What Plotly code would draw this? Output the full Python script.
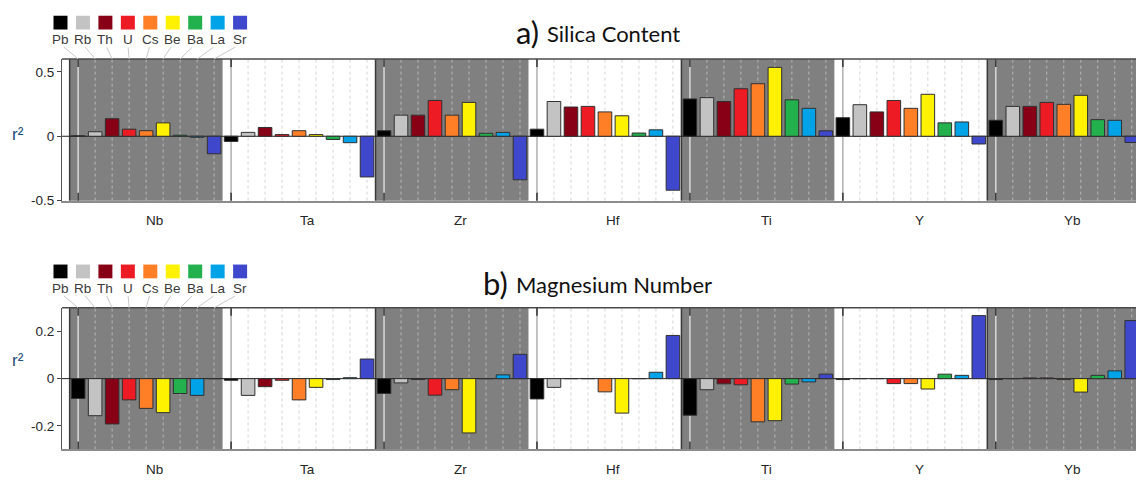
import plotly.graph_objects as go

# --- data -------------------------------------------------------------
groups = ["Nb", "Ta", "Zr", "Hf", "Ti", "Y", "Yb"]
elements = ["Pb", "Rb", "Th", "U", "Cs", "Be", "Ba", "La", "Sr"]
colors = ["#000000", "#c3c3c3", "#880015", "#ed1c24", "#ff7f27",
          "#fff200", "#22b14c", "#00a2e8", "#3f48cc"]

# a) Silica content, r^2 per element (Pb..Sr) for each group
silica_nb = [0.003, 0.035, 0.136, 0.055, 0.043, 0.104, 0.008, -0.008, -0.136]
silica_ta = [-0.04, 0.03, 0.068, 0.013, 0.043, 0.013, -0.025, -0.05, -0.316]
silica_zr = [0.043, 0.164, 0.164, 0.278, 0.164, 0.263, 0.023, 0.03, -0.338]
silica_hf = [0.055, 0.27, 0.227, 0.232, 0.189, 0.159, 0.025, 0.05, -0.419]
silica_ti = [0.29, 0.30, 0.27, 0.369, 0.408, 0.535, 0.283, 0.217, 0.042]
silica_y = [0.144, 0.245, 0.189, 0.278, 0.217, 0.326, 0.104, 0.111, -0.06]
silica_yb = [0.124, 0.232, 0.232, 0.263, 0.248, 0.318, 0.129, 0.124, -0.048]

# b) Magnesium number
mgnum_nb = [-0.084, -0.157, -0.192, -0.09, -0.126, -0.144, -0.063, -0.071, 0.0]
mgnum_ta = [-0.007, -0.071, -0.034, -0.007, -0.09, -0.037, -0.004, 0.004, 0.083]
mgnum_zr = [-0.063, -0.018, -0.004, -0.07, -0.047, -0.23, 0.0, 0.016, 0.103]
mgnum_hf = [-0.086, -0.037, 0.0, 0.0, -0.056, -0.146, 0.0, 0.027, 0.183]
mgnum_ti = [-0.155, -0.047, -0.022, -0.026, -0.183, -0.178, -0.023, -0.014, 0.019]
mgnum_y = [-0.004, 0.0, 0.0, -0.021, -0.021, -0.044, 0.019, 0.014, 0.267]
mgnum_yb = [-0.004, 0.0, 0.003, 0.003, -0.004, -0.057, 0.014, 0.033, 0.246]

silica = [silica_nb, silica_ta, silica_zr, silica_hf, silica_ti, silica_y, silica_yb]
mgnum = [mgnum_nb, mgnum_ta, mgnum_zr, mgnum_hf, mgnum_ti, mgnum_y, mgnum_yb]

# --- layout constants ---------------------------------------------------
W, H = 1136, 484
PLOT_LEFT = 62
X_RANGE = [-0.95, 62.25]
GRAY = "#808080"
TICK_FONT = dict(family="Liberation Sans, Arial", size=13.5, color="#262626")
TITLE_FONT = dict(family="Lato, Open Sans", size=22, color="#111111")

panels = [
    dict(data=silica, label="a)", name="Silica Content", top=60, bottom=204,
         yrange=[-0.5, 0.6], ticks=[-0.5, 0, 0.5], ticktext=["-0.5", "0", "0.5"],
         title_y=34, title_split=(541, 545), legend_y=16),
    dict(data=mgnum, label="b)", name="Magnesium Number", top=313, bottom=457,
         yrange=[-0.3, 0.3], ticks=[-0.2, 0, 0.2], ticktext=["-0.2", "0", "0.2"],
         title_y=289, title_split=(510, 514), legend_y=269),
]


def px(x):
    return x / W


def py(y):
    return 1 - y / H


def data_px(d):
    return PLOT_LEFT + (d - X_RANGE[0]) / (X_RANGE[1] - X_RANGE[0]) * (W - PLOT_LEFT)


n = len(elements)
fig = go.Figure()
shapes = []
annotations = []

for p, panel in enumerate(panels):
    xa = "x" if p == 0 else "x2"
    ya = "y" if p == 0 else "y2"
    xd = f"{xa} domain"
    yd = f"{ya} domain"
    span = panel["bottom"] - panel["top"]

    for e, el in enumerate(elements):
        fig.add_trace(go.Bar(
            x=[g * n + e for g in range(len(groups))],
            y=[panel["data"][g][e] for g in range(len(groups))],
            marker=dict(color=colors[e], line=dict(color="#303030", width=1)),
            width=0.8, xaxis=xa, yaxis=ya, showlegend=False,
            name=el,
        ))

    # shaded / white group bands
    for g in range(len(groups)):
        shaded = g % 2 == 0
        left = g * n - 0.5
        if shaded:
            shapes.append(dict(type="rect", xref=xa, yref=yd, x0=left, x1=left + n,
                               y0=0, y1=1, fillcolor=GRAY, line_width=0, layer="below"))
        grid_col = "#b8b8b8" if shaded else "#d4d4d4"
        for e in range(1, n):
            shapes.append(dict(type="line", xref=xa, yref=yd, x0=g * n + e, x1=g * n + e,
                               y0=0, y1=1, line=dict(color=grid_col, width=1, dash="dot"),
                               layer="below"))
        first_col = "#d8d8d8" if shaded else "#b0b0b0"
        shapes.append(dict(type="line", xref=xa, yref=yd, x0=g * n, x1=g * n, y0=0, y1=1,
                           line=dict(color=first_col, width=1.5), layer="below"))
        stub = 8 / span
        for y0, y1 in [(0, stub), (1 - stub, 1)]:
            shapes.append(dict(type="line", xref=xa, yref=yd, x0=g * n, x1=g * n,
                               y0=y0, y1=y1, line=dict(color="#333333", width=1.5),
                               layer="below"))
        if shaded:
            shapes.append(dict(type="line", xref=xa, yref=yd, x0=left, x1=left, y0=0, y1=1,
                               line=dict(color="#3a3a3a", width=1.5), layer="below"))

    # zero line and top border
    shapes.append(dict(type="line", xref=xd, yref=ya, x0=0, x1=1, y0=0, y1=0,
                       line=dict(color="#202020", width=1), layer="below"))
    shapes.append(dict(type="line", xref=xd, yref=yd, x0=0, x1=1, y0=1, y1=1,
                       line=dict(color="#4a4a4a", width=1.5)))

    # group labels (sit half a bar right of the group centre, as in the original)
    for g, name in enumerate(groups):
        annotations.append(dict(x=g * n + n / 2, xref=xa, y=0, yref=yd,
                                text=name, showarrow=False, xanchor="center",
                                yanchor="middle", yshift=-20, font=TICK_FONT))

    # r^2 label
    annotations.append(dict(x=px(10), y=py((panel["top"] + panel["bottom"]) / 2 - 7),
                            xref="paper", yref="paper", text="r²",
                            xanchor="left", showarrow=False,
                            font=dict(family="Liberation Sans, Arial", size=17,
                                      color="#1f4e79")))

    # title: larger panel letter, then the name
    left_edge, right_start = panel["title_split"]
    annotations.append(dict(x=px(left_edge), y=py(panel["title_y"] - 1), xref="paper",
                            yref="paper", text=panel["label"], showarrow=False,
                            xanchor="right", yanchor="middle",
                            font=dict(TITLE_FONT, size=31)))
    annotations.append(dict(x=px(right_start), y=py(panel["title_y"]), xref="paper",
                            yref="paper", text=panel["name"], showarrow=False,
                            xanchor="left", yanchor="middle", font=TITLE_FONT))

    # element key with leader lines to first group's bars
    ly = panel["legend_y"]
    for e, el in enumerate(elements):
        cx = 60.5 + 22.45 * e
        shapes.append(dict(type="rect", xref="paper", yref="paper",
                           x0=px(cx - 7), x1=px(cx + 7), y0=py(ly + 14), y1=py(ly),
                           fillcolor=colors[e], line_width=0))
        annotations.append(dict(x=px(cx), y=py(ly + 24), xref="paper", yref="paper",
                                text=el, showarrow=False, xanchor="center",
                                yanchor="middle",
                                font=dict(family="Liberation Sans, Arial", size=13.5,
                                          color="#3a3a3a")))
        bx = data_px(e)
        shapes.append(dict(type="line", xref="paper", yref="paper",
                           x0=px(cx + 0.2 * (bx - cx)), y0=py(ly + 32),
                           x1=px(bx), y1=py(panel["top"]),
                           line=dict(color="#c8c8c8", width=1)))

    axis_x = dict(domain=[px(PLOT_LEFT), 1], range=X_RANGE, showgrid=False,
                  zeroline=False, showticklabels=False, ticks="",
                  showline=True, linecolor="#8c8c8c", linewidth=2)
    axis_y = dict(domain=[py(panel["bottom"]), py(panel["top"])], range=panel["yrange"],
                  tickvals=panel["ticks"], ticktext=panel["ticktext"], showgrid=False,
                  zeroline=False, ticks="outside", ticklen=4, tickcolor="#444444",
                  showline=True, linecolor="#555555", linewidth=1, tickfont=TICK_FONT,
                  anchor=xa)
    axis_x["anchor"] = ya
    if p == 0:
        fig.update_layout(xaxis=axis_x, yaxis=axis_y)
    else:
        fig.update_layout(xaxis2=axis_x, yaxis2=axis_y)

fig.update_layout(
    width=W, height=H,
    margin=dict(l=0, r=0, t=0, b=0),
    paper_bgcolor="white", plot_bgcolor="white",
    barmode="overlay",
    shapes=shapes, annotations=annotations,
)

# pin the page to exactly the figure size: no body margin, no stray line gaps
page_fix = """
document.documentElement.style.margin = '0';
document.documentElement.style.overflow = 'hidden';
document.body.style.margin = '0';
document.body.style.overflow = 'hidden';
document.body.style.lineHeight = '0';
document.body.style.fontSize = '0';
document.querySelectorAll('.plotly-graph-div').forEach(function (d) { d.style.display = 'block'; });
"""
fig.write_html("out.html", config={"displayModeBar": False}, post_script=page_fix)
